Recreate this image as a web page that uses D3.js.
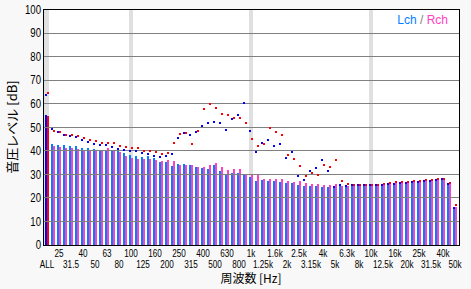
<!DOCTYPE html>
<html><head><meta charset="utf-8">
<script src="https://cdn.jsdelivr.net/npm/d3@7"></script>
<style>
html,body{margin:0;padding:0;background:#f8f8f8;}
svg{display:block}
.tk text{font-family:'Liberation Sans',Arial,sans-serif;font-size:11px;fill:#000}
</style>
</head><body><svg id="c" width="471" height="289"></svg>
<script>
const bands = ["ALL","22.4","25","28","31.5","35.5","40","45","50","56","63","71","80","90","100","112","125","140","160","180","200","224","250","280","315","355","400","450","500","560","630","710","800","900","1k","1.12k","1.25k","1.4k","1.6k","1.8k","2k","2.24k","2.5k","2.8k","3.15k","3.55k","4k","4.5k","5k","5.6k","6.3k","7.1k","8k","9k","10k","11.2k","12.5k","14k","16k","18k","20k","22.4k","25k","28k","31.5k","35.5k","40k","45k","50k"];
const tickLabels = ["ALL","25","31.5","40","50","63","80","100","125","160","200","250","315","400","500","630","800","1k","1.25k","1.6k","2k","2.5k","3.15k","4k","5k","6.3k","8k","10k","12.5k","16k","20k","25k","31.5k","40k","50k"];
const highlightBands = ["ALL","100","1k","10k"];
const yTicks = [0,10,20,30,40,50,60,70,80,90,100];

const lchBar = [55.2,
 43.0,42.6,42.6,42.2,41.9,41.4,41.2,40.8,40.5,40.4,40.0,40.0,39.2,38.2,37.6,37.4,37.8,36.9,35.2,35.2,
 33.5,34.4,34.4,34.0,33.1,32.7,32.3,34.0,31.4,30.1,30.6,30.6,30.1,28.9,27.2,27.6,27.2,27.2,26.8,26.3,26.3,25.5,25.1,25.1,
 25.1,24.6,24.6,24.2,25.1,24.6,25.1,25.1,25.1,25.1,25.1,25.1,25.5,25.5,25.9,25.9,26.3,26.3,26.8,26.8,27.2,27.6,25.9,15.3];
const rchBar = [54.8,
 42.2,41.7,41.4,41.2,40.8,40.4,40.0,40.5,40.3,41.2,40.0,39.6,37.9,36.9,36.6,36.5,36.5,36.1,35.7,36.1,
 35.7,34.0,34.0,34.0,33.1,33.1,34.0,34.8,33.1,31.8,32.3,32.3,30.1,29.7,29.7,28.0,28.0,28.0,28.0,27.2,26.8,27.2,26.3,25.9,
 25.9,25.5,25.5,25.9,25.1,25.1,25.1,25.1,25.1,25.1,25.1,25.5,25.9,26.3,26.3,26.3,26.8,26.8,27.2,27.2,27.6,27.6,25.9,16.1];
const lchDot = [63.5,
 49.3,47.9,46.9,46.3,45.9,44.6,43.6,42.8,42.4,42.4,41.6,40.8,40.3,39.9,39.9,39.1,38.6,37.8,37.4,37.8,
 38.8,45.4,47.6,46.7,48.0,50.5,51.8,52.2,51.8,48.8,53.5,55.2,60.3,48.4,39.5,43.3,44.6,42.0,42.9,36.9,39.5,29.3,27.6,31.4,
 32.7,36.1,31.4,24.6,25.4,25.0,25.4,25.4,25.4,25.4,25.4,25.4,25.8,25.8,26.2,26.2,26.6,26.6,27.1,27.1,27.5,27.9,26.1,15.7];
const rchDot = [64.6,
 48.4,48.0,46.7,46.7,46.2,45.3,44.6,44.0,43.4,43.4,43.3,42.2,41.8,41.0,41.4,40.0,40.0,39.5,38.8,39.1,
 43.3,47.1,47.6,42.9,48.4,57.7,59.9,58.2,55.6,55.2,53.9,53.9,51.8,45.0,42.0,42.9,49.7,48.0,46.7,38.2,36.5,33.5,29.3,30.6,
 29.7,34.0,33.1,36.1,27.3,26.0,25.6,25.6,25.6,25.6,25.6,26.0,26.4,26.8,26.8,26.8,27.3,27.3,27.7,27.7,28.1,28.1,26.4,17.0];

const svg = d3.select("#c");
const x = d3.scaleBand().domain(bands).range([45, 459]).padding(0);
const y = d3.scaleLinear().domain([0, 100]).range([245, 9.5]);
const x0 = 43, x1 = 459, yTop = 9, yBot = 245;

svg.append("rect").attr("x", x0).attr("y", yTop).attr("width", x1 - x0).attr("height", yBot - yTop).attr("fill", "#fff");

svg.append("g").selectAll("rect").data(highlightBands).join("rect")
  .attr("x", d => d === "ALL" ? x(d) - 1 : x(d))
  .attr("y", yTop).attr("width", d => d === "ALL" ? 5 : 4)
  .attr("height", yBot - yTop).attr("fill", "#e0e0e0");

const rows = bands.map((b, i) => ({b, i, lb: lchBar[i], rb: rchBar[i], ld: lchDot[i], rd: rchDot[i]}));

const gb = svg.append("g").attr("shape-rendering", "crispEdges");
gb.selectAll("rect.l").data(rows).join("rect").attr("class", "l")
  .attr("x", d => x(d.b)).attr("width", 2)
  .attr("y", d => y(d.lb)).attr("height", d => y(0) - y(d.lb))
  .attr("fill", d => d.i === 0 ? "#0000ff" : "#0080ff");
gb.selectAll("rect.r").data(rows).join("rect").attr("class", "r")
  .attr("x", d => x(d.b) + 2).attr("width", 2)
  .attr("y", d => y(d.rb)).attr("height", d => y(0) - y(d.rb))
  .attr("fill", d => d.i === 0 ? "#ff0000" : "#ff40c0");

svg.append("g").selectAll("line").data(yTicks.filter(v => v > 0 && v < 100)).join("line")
  .attr("x1", x0).attr("x2", x1)
  .attr("y1", d => Math.floor(y(d)) + 0.5).attr("y2", d => Math.floor(y(d)) + 0.5)
  .attr("stroke", "#808080").attr("stroke-width", 1);

const gd = svg.append("g").attr("shape-rendering", "crispEdges");
gd.selectAll("rect.l").data(rows).join("rect").attr("class", "l")
  .attr("x", d => x(d.b)).attr("y", d => Math.round(y(d.ld)) - 1).attr("width", 2).attr("height", 2).attr("fill", "#0000ff");
gd.selectAll("rect.r").data(rows).join("rect").attr("class", "r")
  .attr("x", d => x(d.b) + 2).attr("y", d => Math.round(y(d.rd)) - 1).attr("width", 2).attr("height", 2).attr("fill", "#ff0000");

svg.append("rect").attr("x", x0 + 0.5).attr("y", yTop + 0.5).attr("width", x1 - x0).attr("height", yBot - yTop)
  .attr("fill", "none").attr("stroke", "#000").attr("stroke-width", 1);

function condense(sel, k) {
  sel.each(function() {
    const w = this.getComputedTextLength();
    d3.select(this).attr("textLength", w * k).attr("lengthAdjust", "spacingAndGlyphs");
  });
}

const ya = svg.append("g").attr("class", "tk").attr("transform", `translate(${x0},0)`)
  .call(d3.axisLeft(y).tickValues(yTicks).tickSize(0).tickPadding(2));
ya.select(".domain").remove();
ya.selectAll(".tick text").style("font-size", "12px");
condense(ya.selectAll(".tick text"), 0.8);

const xa = svg.append("g").attr("class", "tk").attr("transform", `translate(-1,${yBot})`)
  .call(d3.axisBottom(x).tickValues(tickLabels).tickSize(0).tickPadding(0));
xa.select(".domain").remove();
xa.selectAll(".tick text").attr("dy", null)
  .attr("y", d => tickLabels.indexOf(d) % 2 === 1 ? 12 : 23);
condense(xa.selectAll(".tick text"), 0.74);
xa.selectAll(".tick text").each(function() {
  const bb = this.getBBox();
  const right = this.getCTM().e + bb.x + bb.width;
  if (right > 462) d3.select(this).attr("x", 462 - right);
});

svg.append("text").attr("transform", `translate(17,${(yTop + yBot) / 2}) rotate(-90)`)
  .attr("text-anchor", "middle").attr("font-family", "'Noto Sans CJK JP',sans-serif").attr("font-size", 13)
  .text("音圧レベル [dB]");
svg.append("text").attr("x", 251).attr("y", 283).attr("text-anchor", "middle")
  .attr("font-family", "'Noto Sans CJK JP',sans-serif").attr("font-size", 12)
  .text("周波数 [Hz]");

const lg = svg.append("text").attr("x", 448).attr("y", 24).attr("text-anchor", "end")
  .attr("font-family", "'Liberation Sans',Arial,sans-serif").attr("font-size", 12);
lg.append("tspan").attr("fill", "#0080ff").text("Lch");
lg.append("tspan").attr("fill", "#808080").text(" / ");
lg.append("tspan").attr("fill", "#ff40c0").text("Rch");
</script>
</body></html>
